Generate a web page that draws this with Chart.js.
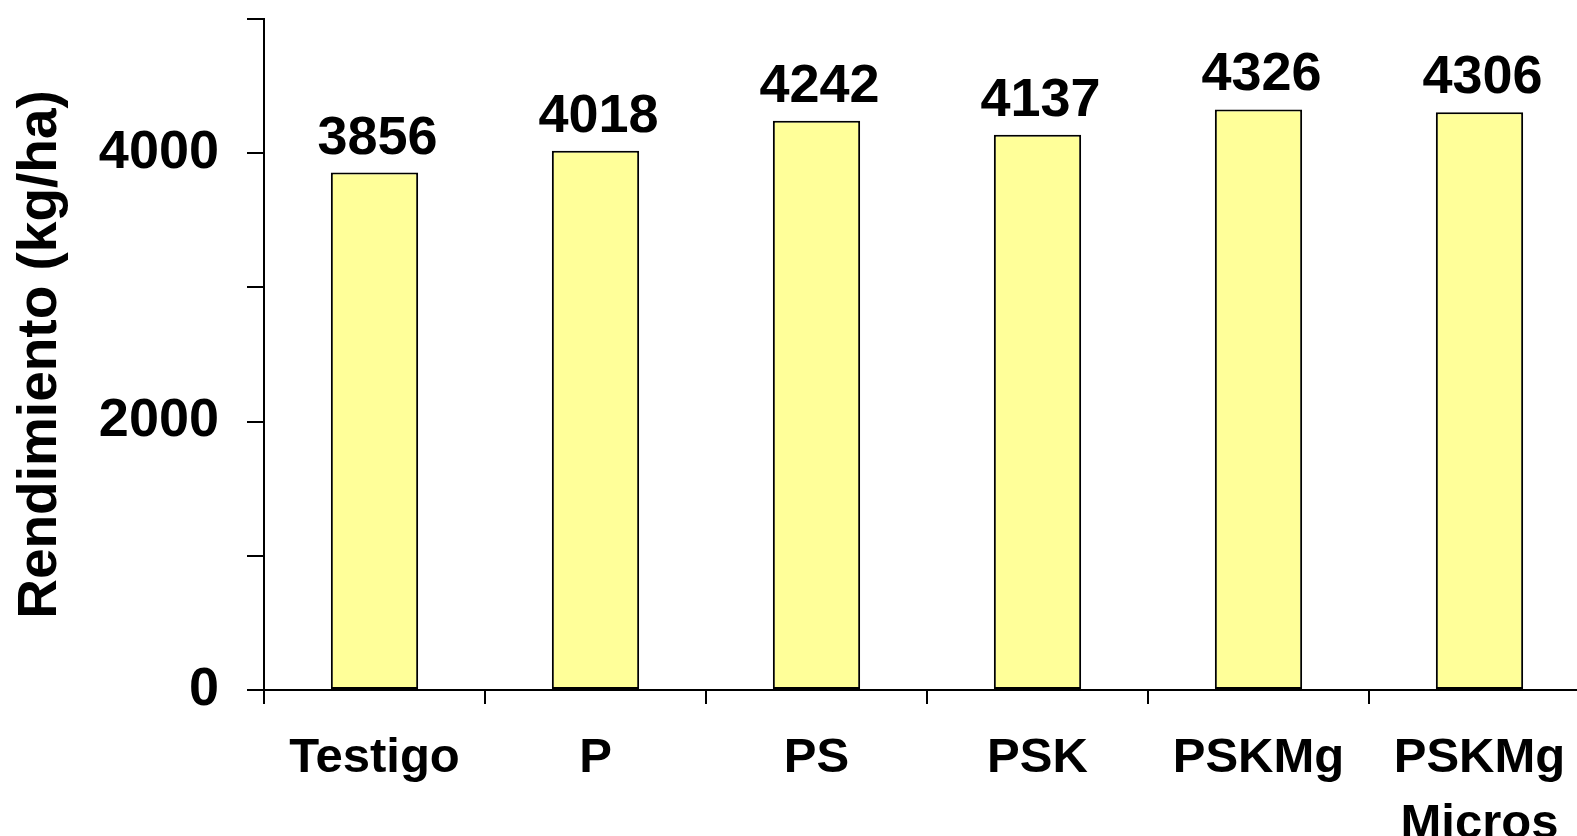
<!DOCTYPE html>
<html>
<head>
<meta charset="utf-8">
<style>
  html, body { margin: 0; padding: 0; background: #fff; overflow: hidden; }
  canvas { display: block; }
</style>
<script src="https://cdn.jsdelivr.net/npm/chart.js@4/dist/chart.umd.min.js"></script>
</head>
<body>
<canvas id="yieldChart" width="1600" height="836"></canvas>
<script>
var categories = ['Testigo', 'P', 'PS', 'PSK', 'PSKMg', ['PSKMg', 'Micros']];
var yields = [3856, 4018, 4242, 4137, 4326, 4306];
var yTickValues = [0, 1000, 2000, 3000, 4000, 5000];
var yTickShown = [0, 2000, 4000];
var yTitle = 'Rendimiento (kg/ha)';

(function () {
  var FONT = '"Liberation Sans", Arial, sans-serif';

  // value labels drawn above each bar
  var valueLabels = {
    id: 'valueLabels',
    afterDatasetsDraw: function (chart) {
      var ctx = chart.ctx;
      var meta = chart.getDatasetMeta(0);
      ctx.save();
      ctx.font = 'bold 54px ' + FONT;
      ctx.fillStyle = '#000';
      ctx.textAlign = 'center';
      ctx.textBaseline = 'alphabetic';
      meta.data.forEach(function (bar, i) {
        ctx.fillText(String(yields[i]), bar.x + 3, bar.y - 19);
      });
      ctx.restore();
    }
  };

  new Chart(document.getElementById('yieldChart'), {
    type: 'bar',
    data: {
      labels: categories,
      datasets: [{
        data: yields,
        backgroundColor: '#FFFF99',
        borderColor: '#000',
        borderWidth: 2,
        borderSkipped: false,
        categoryPercentage: 1,
        barPercentage: 0.395
      }]
    },
    options: {
      responsive: false,
      animation: false,
      layout: { padding: { top: 19, right: 10, left: 0, bottom: 0 } },
      plugins: { legend: { display: false }, tooltip: { enabled: false } },
      scales: {
        x: {
          grid: { display: true, drawOnChartArea: false, drawTicks: true, tickLength: 14, color: '#000', lineWidth: 2, offset: true },
          border: { display: true, color: '#000', width: 2 },
          ticks: { color: '#000', font: { family: FONT, size: 49, weight: 'bold', lineHeight: 1.36 }, padding: 21, maxRotation: 0, autoSkip: false },
          afterFit: function (scale) { scale.height = 146; }
        },
        y: {
          min: 0,
          max: 5000,
          afterBuildTicks: function (scale) {
            scale.ticks = yTickValues.map(function (v) { return { value: v }; });
          },
          grid: { display: true, drawOnChartArea: false, drawTicks: true, tickLength: 17, color: '#000', lineWidth: 2 },
          border: { display: true, color: '#000', width: 2 },
          ticks: {
            color: '#000',
            padding: 28,
            font: { family: FONT, size: 54, weight: 'bold' },
            callback: function (v) { return yTickShown.indexOf(v) >= 0 ? String(v) : ''; }
          },
          title: {
            display: true,
            text: yTitle,
            color: '#000',
            font: { family: FONT, size: 55, weight: 'bold' },
            padding: { top: 8, bottom: 0 }
          },
          afterFit: function (scale) {
            scale.width = 264;
            scale.paddingTop = 0;
            scale.paddingBottom = 0;
          }
        }
      }
    },
    plugins: [valueLabels]
  });
})();
</script>
</body>
</html>
